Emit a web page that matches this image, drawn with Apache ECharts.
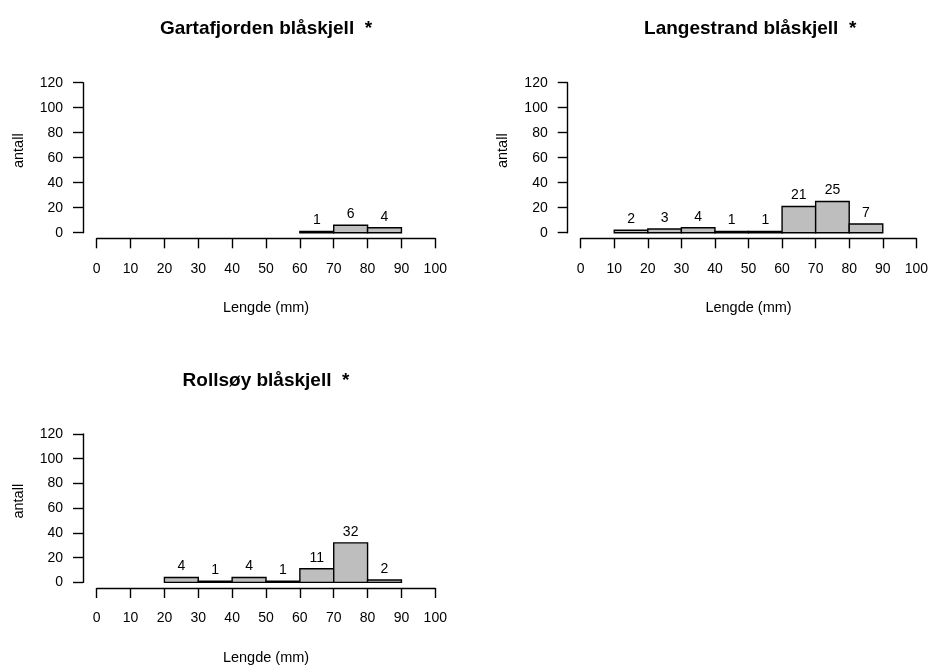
<!DOCTYPE html>
<html>
<head>
<meta charset="utf-8">
<script src="https://cdn.jsdelivr.net/npm/echarts@6/dist/echarts.min.js"></script>
<style>
html,body{margin:0;padding:0;background:#fff;}
#chart{width:931px;height:666px;}
</style>
</head>
<body>
<div id="chart"></div>
<script>
// ---- data ----
const binStarts = [0, 10, 20, 30, 40, 50, 60, 70, 80, 90];
const binWidth = 10;
const titles = ['Gartafjorden blåskjell  *', 'Langestrand blåskjell  *', 'Rollsøy blåskjell  *'];
const gartafjorden = [0, 0, 0, 0, 0, 0, 1, 6, 4, 0];
const langestrand  = [0, 2, 3, 4, 1, 1, 21, 25, 7, 0];
const rollsoy      = [0, 0, 4, 1, 4, 1, 11, 32, 2, 0];
const xTicks = [0, 10, 20, 30, 40, 50, 60, 70, 80, 90, 100];
const yTicks = [0, 20, 40, 60, 80, 100, 120];
const xName = 'Lengde (mm)';
const yName = 'antall';

const FONT = '"Liberation Sans", Arial, sans-serif';
const TXT = '#000';
const LW = 1.4;
const panels = [gartafjorden, langestrand, rollsoy];

const grids = [
  {left: 96.7, top: 82.7, width: 338.6, height: 150},
  {left: 580.7, top: 82.7, width: 339, height: 150},
  {left: 96.7, top: 434, width: 338.6, height: 150}
];
const yOffsets = [13.7, 13, 13.7];

function binData(counts) {
  const out = [];
  counts.forEach((c, i) => {
    if (c > 0) out.push([binStarts[i], binStarts[i] + binWidth, c]);
  });
  return out;
}

const option = {
  animation: false,
  backgroundColor: '#fff',
  textStyle: {fontFamily: FONT},
  title: grids.map((g, i) => ({
    text: titles[i],
    left: g.left + g.width / 2,
    top: g.top - 63,
    textAlign: 'center',
    padding: 0,
    textStyle: {fontFamily: FONT, fontSize: 19, fontWeight: 'bold', color: TXT}
  })),
  grid: grids.map(g => Object.assign({containLabel: false}, g)),
  xAxis: grids.map((g, i) => ({
    gridIndex: i,
    type: 'value',
    min: xTicks[0],
    max: xTicks[xTicks.length - 1],
    interval: xTicks[1] - xTicks[0],
    offset: 5.6,
    name: xName,
    nameLocation: 'middle',
    nameGap: 62,
    nameTextStyle: {fontFamily: FONT, fontSize: 14.5, color: TXT},
    axisLine: {show: true, onZero: false, lineStyle: {color: '#000', width: LW}},
    axisTick: {show: true, length: 10, lineStyle: {color: '#000', width: LW}},
    axisLabel: {show: true, margin: 23.5, fontFamily: FONT, fontSize: 14, color: TXT, showMinLabel: true, showMaxLabel: true},
    splitLine: {show: false}
  })),
  yAxis: grids.map((g, i) => ({
    gridIndex: i,
    type: 'value',
    min: yTicks[0],
    max: yTicks[yTicks.length - 1],
    interval: yTicks[1] - yTicks[0],
    offset: yOffsets[i],
    name: yName,
    nameLocation: 'middle',
    nameGap: 57,
    nameTextStyle: {fontFamily: FONT, fontSize: 14.5, color: TXT, padding: [0, 0, 0, 14]},
    axisLine: {show: true, onZero: false, lineStyle: {color: '#000', width: LW}},
    axisTick: {show: true, length: 10, lineStyle: {color: '#000', width: LW}},
    axisLabel: {show: true, margin: 20, fontFamily: FONT, fontSize: 14, color: TXT},
    splitLine: {show: false}
  })),
  series: panels.map((counts, i) => ({
    type: 'custom',
    xAxisIndex: i,
    yAxisIndex: i,
    encode: {x: [0, 1], y: 2},
    data: binData(counts),
    renderItem: function (params, api) {
      const x0 = api.value(0), x1 = api.value(1), c = api.value(2);
      const p0 = api.coord([x0, c]);
      const p1 = api.coord([x1, 0]);
      return {
        type: 'group',
        children: [
          {
            type: 'rect',
            shape: {x: p0[0], y: p0[1], width: p1[0] - p0[0], height: p1[1] - p0[1]},
            style: {fill: '#BEBEBE', stroke: '#000', lineWidth: LW}
          },
          {
            type: 'text',
            style: {
              text: String(c),
              x: (p0[0] + p1[0]) / 2,
              y: p0[1] - 4,
              align: 'center',
              verticalAlign: 'bottom',
              fontFamily: FONT,
              fontSize: 14,
              fill: TXT
            }
          }
        ]
      };
    }
  }))
};

const chart = echarts.init(document.getElementById('chart'), null, {renderer: 'canvas'});
chart.setOption(option);
</script>
</body>
</html>
